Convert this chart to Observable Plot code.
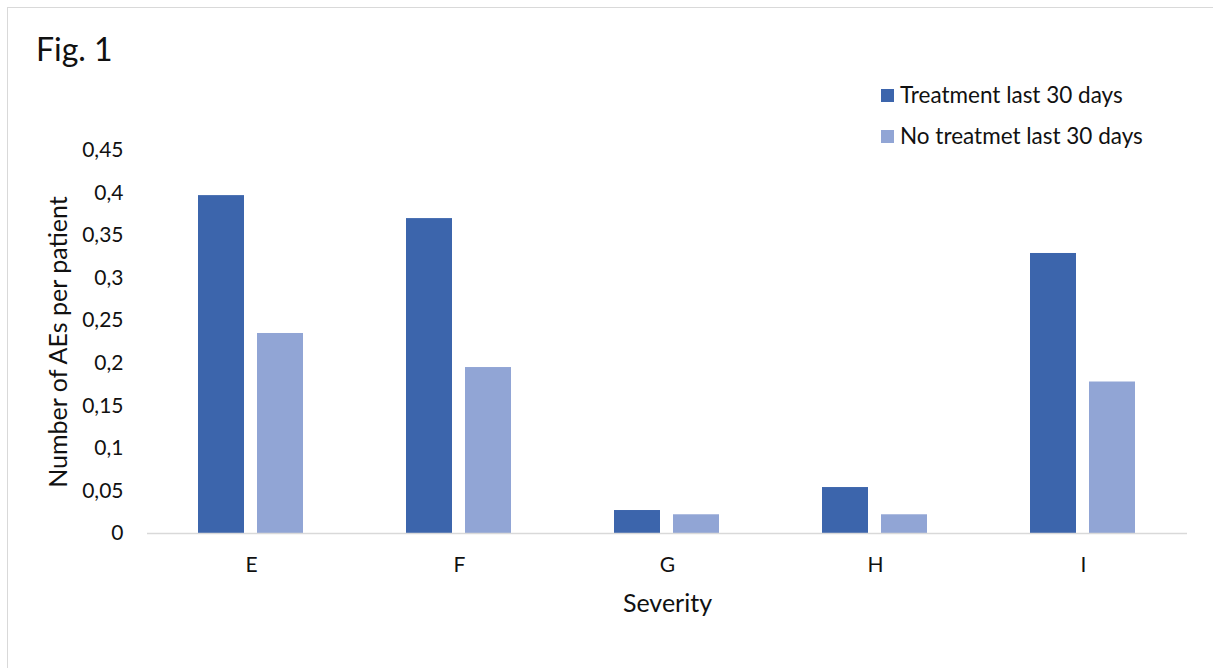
<!DOCTYPE html>
<html>
<head>
<meta charset="utf-8">
<script src="https://cdn.jsdelivr.net/npm/d3@7"></script>
<script src="https://cdn.jsdelivr.net/npm/@observablehq/plot@0.6"></script>
<style>
  html, body { margin: 0; padding: 0; background: #fff; overflow: hidden; }
  #wrap { position: relative; width: 1213px; height: 668px; font-family: Lato, "Open Sans", sans-serif; color: #111; }
  #frame { position: absolute; left: 7px; top: 7px; width: 1240px; height: 700px; border: 1.5px solid #d9d9d9; box-sizing: border-box; }
  #title { position: absolute; left: 36px; top: 33px; font-size: 32px; line-height: 1; }
  .leg { position: absolute; left: 881px; font-size: 22.5px; line-height: 1; display: flex; align-items: center; white-space: nowrap; }
  .sw { width: 13px; height: 13px; margin-right: 6px; }
  #chart { position: absolute; left: 0; top: 0; }
  #chart svg [aria-label="y-axis label"] text { font-size: 25px; }
  #chart svg [aria-label="fx-axis label"] text { font-size: 25px; }
</style>
</head>
<body>
<div id="wrap">
  <div id="frame"></div>
  <div id="chart"></div>
  <div id="title">Fig. 1</div>
  <div id="legend"></div>
</div>
<script>
const categories = ["E", "F", "G", "H", "I"];
const seriesNames = ["Treatment last 30 days", "No treatmet last 30 days"];
const treatment = [0.397, 0.370, 0.027, 0.054, 0.329];
const noTreatment = [0.235, 0.195, 0.022, 0.022, 0.178];
const colors = ["#3c65ac", "#91a5d5"];
const yTicks = [0, 0.05, 0.1, 0.15, 0.2, 0.25, 0.3, 0.35, 0.4, 0.45];

const data = [];
categories.forEach((c, i) => {
  data.push({cat: c, series: seriesNames[0], value: treatment[i]});
  data.push({cat: c, series: seriesNames[1], value: noTreatment[i]});
});

const chart = Plot.plot({
  width: 1213,
  height: 668,
  marginLeft: 146,
  marginRight: 25,
  marginTop: 150,
  marginBottom: 135,
  style: {fontFamily: "Lato, 'Open Sans', sans-serif", fontSize: "21px", color: "#111", background: "transparent"},
  fx: {domain: categories, padding: 0, label: "Severity", labelAnchor: "center", labelOffset: 78, tickSize: 0, tickPadding: 24},
  x: {domain: seriesNames, paddingInner: 0.22, paddingOuter: 0.864, axis: null},
  y: {domain: [0, 0.45], ticks: yTicks, tickFormat: d => String(d).replace(".", ","), tickSize: 0, tickPadding: 24,
      label: "Number of AEs per patient", labelArrow: "none", labelAnchor: "center", labelOffset: 98},
  color: {domain: seriesNames, range: colors},
  marks: [
    Plot.barY(data, {fx: "cat", x: "series", y: "value", fill: "series"}),
    Plot.ruleY([0], {stroke: "#d9d9d9", strokeWidth: 1.5})
  ]
});
document.getElementById("chart").appendChild(chart);

const legend = document.getElementById("legend");
seriesNames.forEach((s, i) => {
  const row = document.createElement("div");
  row.className = "leg";
  row.style.top = (84 + i * 41) + "px";
  const sw = document.createElement("div");
  sw.className = "sw";
  sw.style.background = colors[i];
  const t = document.createElement("span");
  t.textContent = s;
  row.appendChild(sw);
  row.appendChild(t);
  legend.appendChild(row);
});
</script>
</body>
</html>
